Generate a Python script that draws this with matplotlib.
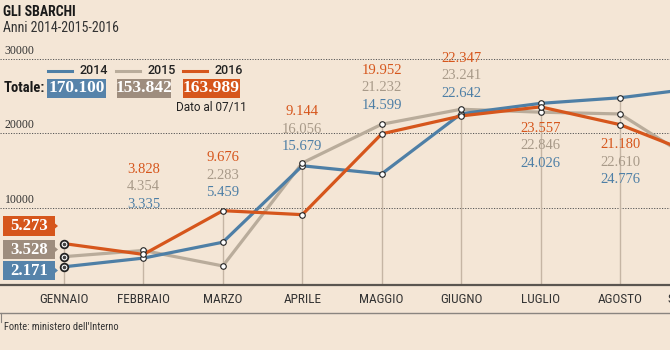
import matplotlib
matplotlib.use("Agg")
import matplotlib.pyplot as plt
from matplotlib import font_manager as fm
from matplotlib.patches import Polygon, Rectangle
from matplotlib.lines import Line2D
import matplotlib.transforms as mtrans

# ---------------- data ----------------
months = ["GENNAIO", "FEBBRAIO", "MARZO", "APRILE", "MAGGIO",
          "GIUGNO", "LUGLIO", "AGOSTO", "SETTEMBRE"]
years = ["2014", "2015", "2016"]
v2014 = [2171, 3335, 5459, 15679, 14599, 22642, 24026, 24776, 26100]
v2015 = [3528, 4354, 2283, 16056, 21232, 23241, 22846, 22610, 15900]
v2016 = [5273, 3828, 9676, 9144, 19952, 22347, 23557, 21180, 17000]
totals = ["170.100", "153.842", "163.989"]
yticks = [10000, 20000, 30000]

# ---------------- style ----------------
BG = "#F4E6D6"
C14 = "#4E7FA6"
C15 = "#B9AC9B"
C16 = "#D6561C"
BOX14 = "#5683AA"
BOX15 = "#9E8D7E"
BOX16 = "#D6561C"

avail = {f.name for f in fm.fontManager.ttflist}
def pick(*names):
    for n in names:
        if n in avail:
            return n
    return "DejaVu Sans"
SANS = pick("Liberation Sans Narrow", "Roboto Condensed", "Open Sans Condensed", "Roboto", "DejaVu Sans")
SANS2 = pick("Roboto", "Open Sans", "DejaVu Sans")
SERIF = pick("Liberation Serif", "DejaVu Serif")

W, H = 670, 350
fig = plt.figure(figsize=(W / 100, H / 100), dpi=100, facecolor=BG)

def fx(x):
    return x / W
def fy(y):
    return 1 - y / H

ax_top, ax_bot = 40, 285
ax = fig.add_axes([0, fy(ax_bot), 1, (ax_bot - ax_top) / H])
ax.set_facecolor(BG)
px_per_unit = 0.0076
zero_y = 287
ax.set_ylim(-(zero_y - ax_bot) / px_per_unit, (zero_y - ax_top) / px_per_unit)
step = 79.43
ax.set_xlim(-64 / step, (W - 64) / step)

for s in ["left", "right", "top"]:
    ax.spines[s].set_visible(False)
ax.spines["bottom"].set_color("#5a5550")
ax.spines["bottom"].set_linewidth(1.6)
ax.set_yticks([])

x = list(range(len(months)))
ax.set_xticks(x[:8])
ax.set_xticklabels(months[:8], fontfamily=SANS, fontsize=9.5, color="#333333")
ax.tick_params(axis="x", length=0, pad=6)
ax.text(8, ax.get_ylim()[0], months[8], fontfamily=SANS, fontsize=9.5,
        color="#333333", ha="center", va="top", clip_on=False,
        transform=ax.transData + mtrans.ScaledTranslation(0, -6 / 72, fig.dpi_scale_trans))

# grid lines
for t in yticks:
    ax.axhline(t, color="#555555", lw=0.7, ls=(0, (1.2, 1.5)), zorder=1)
    ax.annotate(str(t), xy=(0, t), xycoords=("axes fraction", "data"),
                xytext=(3.5, 1.5), textcoords="offset points",
                fontfamily=SERIF, fontsize=8.5, color="#333333", va="bottom", ha="left")

series = [v2014, v2015, v2016]
colors = [C14, C15, C16]
label_colors = [C14, "#A89A89", C16]

for i in range(8):
    top = max(v[i] for v in series)
    ax.plot([i, i], [0, top], color="#C5B5A4", lw=1.0, zorder=1.5)

zs = {0: 3, 1: 2, 2: 4}
for k, (v, c) in enumerate(zip(series, colors)):
    ax.plot(x, v, color=c, lw=2.3, zorder=zs[k], solid_capstyle="butt",
            solid_joinstyle="miter")
    ax.plot(x[1:8], v[1:8], ls="none", marker="o", ms=4, mfc="white",
            mec="#222222", mew=0.8, zorder=6)
    ax.plot([0], [v[0]], ls="none", marker="o", ms=5.5, mfc="white",
            mec="#222222", mew=1.3, zorder=6)
    ax.plot([0], [v[0]], ls="none", marker="o", ms=1.6, mfc="#444444",
            mec="#444444", zorder=7)

def fmt(n):
    return f"{n:,}".replace(",", ".")

label_above = [None, 46, 18, 16, 19, 16, None, None]
label_below = {6: 16, 7: 20}
for i in range(1, 8):
    if label_above[i] is not None:
        base = max(v[i] for v in series)
        for j, k in enumerate([0, 1, 2]):
            off = label_above[i] + j * 17.5
            ax.annotate(fmt(series[k][i]), xy=(i, base), xytext=(0, off * 0.72),
                        textcoords="offset points", ha="center", va="center",
                        fontfamily=SERIF, fontsize=10.5, color=label_colors[k])
    else:
        base = min(v[i] for v in series)
        for j, k in enumerate([2, 1, 0]):
            off = label_below[i] + j * 17.5
            ax.annotate(fmt(series[k][i]), xy=(i, base), xytext=(0, -off * 0.72),
                        textcoords="offset points", ha="center", va="center",
                        fontfamily=SERIF, fontsize=10.5, color=label_colors[k])

# ---------------- figure-level text ----------------
fig.text(fx(3), fy(12), "GLI SBARCHI", fontfamily=SANS, fontweight="bold",
         fontsize=10, color="#1a1a1a", va="center", ha="left")
fig.text(fx(3), fy(28), "Anni 2014-2015-2016", fontfamily=SANS, fontsize=10,
         color="#333333", va="center", ha="left")

leg_x = [48, 116, 183]
for lx, c, yr in zip(leg_x, colors, years):
    fig.add_artist(Line2D([fx(lx), fx(lx + 24)], [fy(71), fy(71)], color=c, lw=2.2))
    fig.text(fx(lx + 31), fy(71), yr, fontfamily=SANS2, fontweight="medium", fontsize=9,
             color="#222222", va="center", ha="left")

fig.text(fx(4), fy(88), "Totale:", fontfamily=SANS, fontweight="bold", fontsize=10.5,
         color="#1a1a1a", va="center", ha="left")
box_x = [(47, 106), (117, 171), (183, 240)]
for (x0, x1), c, t in zip(box_x, [BOX14, BOX15, BOX16], totals):
    fig.add_artist(Rectangle((fx(x0), fy(98)), fx(x1 - x0), (98 - 79) / H,
                             facecolor=c, edgecolor="none"))
    fig.text(fx((x0 + x1) / 2), fy(88.5), t, fontfamily=SERIF, fontweight="bold",
             fontsize=12.5, color="white", va="center", ha="center")
fig.text(fx(176), fy(108), "Dato al 07/11", fontfamily=SANS2, fontsize=8.5,
         color="#222222", va="center", ha="left")

lboxes = [(216, 236, BOX16, v2016[0]), (240, 259, BOX15, v2015[0]), (261, 280, BOX14, v2014[0])]
for y0, y1, c, val in lboxes:
    fig.add_artist(Rectangle((fx(3), fy(y1)), fx(52), (y1 - y0) / H,
                             facecolor=c, edgecolor="none"))
    ym = (y0 + y1) / 2
    fig.add_artist(Polygon([(fx(55), fy(ym - 2.5)), (fx(58), fy(ym)), (fx(55), fy(ym + 2.5))],
                           closed=True, facecolor=c, edgecolor="none"))
    fig.text(fx(29), fy(ym + 0.5), fmt(val), fontfamily=SERIF, fontweight="bold",
             fontsize=12, color="white", va="center", ha="center")

fig.add_artist(Line2D([0, 1], [fy(313), fy(313)], color="#8a8580", lw=1.0))
fig.add_artist(Line2D([fx(1), fx(1)], [fy(313), fy(322)], color="#8a8580", lw=0.8))
fig.text(fx(4), fy(327), "Fonte: ministero dell'Interno", fontfamily=SANS, fontsize=7.5,
         color="#333333", va="center", ha="left")

fig.savefig("out.png", dpi=100, facecolor=BG)
